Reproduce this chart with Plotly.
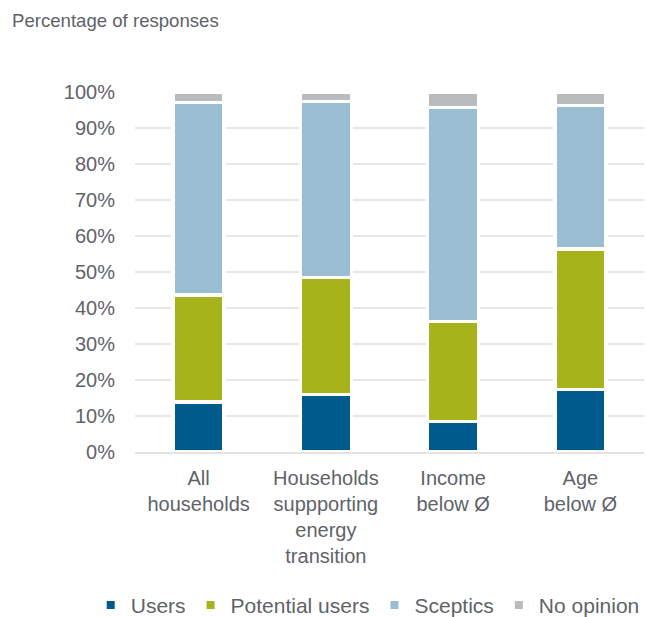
import plotly.graph_objects as go

# Survey groups and response shares (%)
categories = [
    "All<br>households",
    "Households<br>suppporting<br>energy<br>transition",
    "Income<br>below Ø",
    "Age<br>below Ø",
]
users = [13.9, 16.0, 8.5, 17.4]
potential_users = [29.7, 32.5, 27.7, 39.0]
sceptics = [53.5, 48.9, 59.5, 39.9]
no_opinion = [2.9, 2.6, 4.3, 3.7]

series = [
    ("Users", users, "#005b8c"),
    ("Potential users", potential_users, "#a7b31a"),
    ("Sceptics", sceptics, "#9bbdd1"),
    ("No opinion", no_opinion, "#b9bcbf"),
]

FONT = "Liberation Sans, Arial, sans-serif"
TEXT = "#5f6369"

fig = go.Figure()
for name, vals, color in series:
    fig.add_trace(go.Bar(
        x=categories, y=vals, name=name, showlegend=False,
        marker=dict(color=color, line=dict(color="white", width=3.5)),
    ))
# small square legend keys
for name, vals, color in series:
    fig.add_trace(go.Scatter(
        x=[None], y=[None], mode="markers", name=name,
        marker=dict(symbol="square", size=8, color=color),
    ))

fig.update_layout(
    width=646, height=617,
    barmode="stack", bargap=0.6,
    plot_bgcolor="white", paper_bgcolor="white",
    margin=dict(l=135, r=2, t=92, b=164.5, autoexpand=False),
    font=dict(family=FONT, color=TEXT, size=20),
    showlegend=True,
    legend=dict(
        orientation="h", traceorder="normal",
        x=-0.087, xanchor="left", y=-0.426, yanchor="middle",
        font=dict(size=21, color=TEXT), itemsizing="trace",
        bgcolor="rgba(0,0,0,0)",
    ),
    annotations=[dict(
        text="Percentage of responses", xref="paper", yref="paper",
        x=-0.246, y=1.2, xanchor="left", yanchor="middle", showarrow=False,
        font=dict(size=18.6, color=TEXT),
    )],
)
fig.update_yaxes(
    range=[0, 100], dtick=10, ticksuffix="%", showgrid=True,
    gridcolor="#e6e6e6", gridwidth=1.5, zeroline=False, automargin=False,
    ticklabelstandoff=19, tickfont=dict(size=20, color=TEXT),
)
fig.update_xaxes(
    showline=True, linecolor="#e3e3e3", linewidth=1.5, automargin=False,
    tickfont=dict(size=20, color=TEXT), ticklabelstandoff=7,
)

fig.write_html("out.html")
